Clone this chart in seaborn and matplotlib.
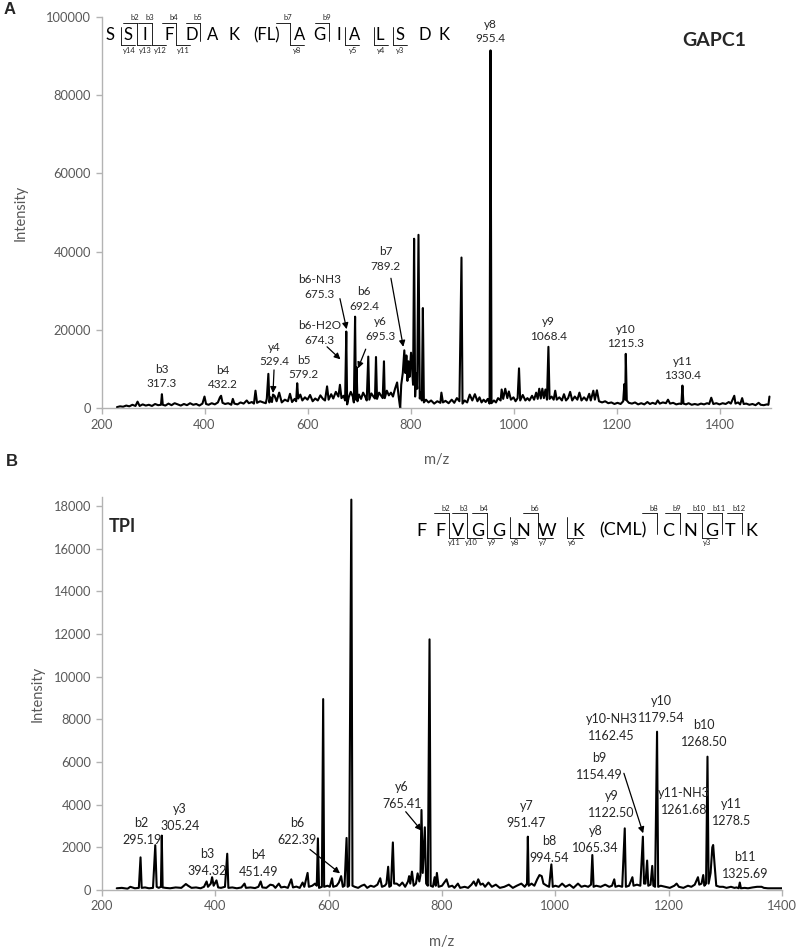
import matplotlib
matplotlib.use("Agg")
import matplotlib.pyplot as plt
from matplotlib.lines import Line2D
import pandas as pd
import seaborn as sns

# ---------------- Panel A: GAPC1 spectrum (m/z, intensity) ----------------
mz_a = [230, 236, 242, 248, 254, 260, 266, 270, 274, 280, 286, 292, 298, 304, 310,
        315.5, 317.3, 319, 324, 330, 336, 342, 348, 354, 360, 366, 372, 378, 384, 390,
        396, 400, 403, 408, 414, 420, 426, 430, 432.2, 435, 440, 446, 452, 455, 458,
        464, 470, 476, 482, 486, 492, 496, 499, 502, 508, 514, 519, 521, 524, 526,
        528, 531, 533, 536, 540, 545, 550, 556, 562, 566, 570, 575, 578, 580, 582,
        586, 590, 595, 600, 605, 610, 615, 620, 625, 630, 634, 638, 641, 646, 650,
        655, 660, 663, 666, 670, 673, 675.3, 677, 680, 684, 688, 690, 692.4, 694, 695.3,
        697, 700, 704, 708, 712, 715, 718, 720, 724, 728, 731, 733, 735, 739, 743,
        746, 748.5, 750, 754, 758, 762, 766, 770, 774, 777, 780, 782, 785, 788, 790,
        792, 794, 796, 798, 801, 803, 805, 807, 809, 811, 813, 815.5, 818, 820, 822,
        824, 826, 830, 835, 840, 846, 852, 858, 860, 863, 868, 874, 880, 885, 890,
        895, 899, 901, 905, 910, 915, 920, 925, 930, 934, 938, 942, 946, 950, 953.5,
        955.4, 957.3, 962, 966, 970, 975, 977, 980, 984, 988, 991, 995, 1000, 1004, 1008,
        1010.7, 1013, 1018, 1023, 1027, 1031, 1036, 1040, 1044, 1047, 1050, 1053, 1056, 1059, 1062,
        1065, 1067.8, 1070, 1074, 1078, 1081, 1084, 1089, 1094, 1098, 1102, 1106, 1110, 1114, 1119,
        1124, 1128, 1132, 1137, 1142, 1147, 1150, 1155, 1158, 1162, 1166, 1172, 1178, 1184, 1190,
        1196, 1202, 1208, 1213, 1215.3, 1217, 1218, 1220, 1224, 1230, 1236, 1242, 1248, 1254, 1260,
        1265, 1270, 1276, 1280, 1284, 1290, 1296, 1300, 1304, 1310, 1316, 1322, 1326, 1328, 1330,
        1335, 1340, 1346, 1352, 1358, 1364, 1370, 1376, 1380, 1384, 1388, 1394, 1400, 1406, 1412,
        1418, 1422, 1428.7, 1431, 1436, 1440, 1444, 1447, 1452, 1458, 1464, 1470, 1476, 1480, 1486,
        1492, 1495, 1497]
int_a = [300, 500, 400, 700, 500, 900, 600, 1700, 600, 1000, 700, 900, 600, 1100, 800,
         900, 3600, 900, 700, 1200, 800, 1300, 1000, 700, 1100, 800, 1300, 900, 1100, 700,
         1200, 3000, 1100, 900, 1300, 1000, 1500, 2800, 3200, 1400, 1100, 1300, 900, 2400, 1200,
         1000, 1500, 1200, 2000, 1300, 1600, 1200, 4500, 1400, 1800, 1500, 1300, 2500, 8800, 1500,
         2800, 1600, 3500, 3200, 1800, 4000, 1500, 2200, 1800, 3700, 1600, 2400, 1800, 6400, 2500,
         3500, 2000, 2800, 2200, 3400, 1800, 2500, 2000, 3300, 2400, 2000, 5600, 2200, 3600, 2500,
         4200, 3000, 6000, 2600, 3200, 2000, 19600, 1000, 2800, 4200, 3000, 1500, 23400, 2200, 10500,
         1800, 3500, 2400, 4000, 3000, 2000, 13200, 2200, 3800, 3000, 2500, 13100, 2400, 4000, 3200,
         2600, 12000, 2600, 4500, 3300, 4000, 3000, 5000, 6600, 3000, 0, 6000, 9000, 14800, 9000,
         13500, 7000, 12000, 8000, 14200, 10000, 6000, 43300, 3000, 9000, 5000, 44300, 2500, 4000, 2000,
         25600, 1500, 2200, 1500, 2000, 1200, 1800, 1400, 4000, 1500, 1900, 1300, 2200, 1400, 2600,
         1800, 38500, 1200, 2000, 1500, 3500, 2000, 3600, 1800, 2800, 1500, 2200, 1600, 2400, 1200,
         91400, 1300, 2000, 1500, 2600, 2000, 4800, 2400, 5000, 2600, 4300, 2200, 2800, 1800, 2600,
         10200, 2000, 3400, 2000, 2600, 2000, 3200, 2200, 4000, 2400, 5000, 2500, 5000, 2600, 4800,
         2200, 15700, 2400, 3000, 2200, 4500, 2200, 2800, 2000, 3600, 2000, 2600, 4200, 2000, 3000,
         2200, 4000, 2000, 2800, 2000, 3700, 2000, 4500, 2200, 4600, 1800, 1500, 1800, 1300, 1500,
         1100, 1400, 1100, 1800, 6200, 2200, 13900, 2000, 1400, 1200, 1500, 1000, 1300, 1000, 1600,
         1100, 1400, 1100, 2000, 1200, 1500, 1300, 2200, 1200, 1400, 1000, 1200, 1100, 5800, 1200,
         1000, 1300, 900, 1100, 900, 1200, 1000, 1300, 1100, 2700, 1100, 1300, 1000, 1300, 1100,
         1600, 1200, 3200, 1200, 1500, 1000, 2600, 1100, 1200, 900, 1100, 800, 1400, 900, 800,
         1000, 900, 3000]

# peak labels panel A
lab_a = ["b3\n317.3", "b4\n432.2", "y4\n529.4", "b5\n579.2", "b6-H2O\n674.3",
         "b6-NH3\n675.3", "b6\n692.4", "y6\n695.3", "b7\n789.2", "y8\n955.4",
         "y9\n1068.4", "y10\n1215.3", "y11\n1330.4"]
lab_a_x = [317, 436, 536, 592, 624, 624, 710, 742, 752, 955, 1068, 1218, 1328]
lab_a_y = [8100, 7900, 13700, 10400, 19200, 30900, 27900, 20300, 38100, 96200,
           20300, 18300, 10200]
arrows_a = [(535, 9800, 533, 3900), (638, 15700, 664, 12500), (663, 28000, 676, 20200),
            (713, 15100, 698, 10200), (762, 33200, 786, 15700)]

# ---------------- Panel B: TPI spectrum ----------------
mz_b = [226, 235, 245, 250, 258, 265, 268, 270, 276, 283, 290, 294, 296.5, 300, 304,
        305.5, 307, 312, 320, 330, 340, 348, 352, 358, 366, 374, 380, 384.6, 387, 392,
        394.3, 397, 402, 405, 410, 417, 421, 423, 430, 438, 446, 451.5, 454, 462, 470,
        476, 480, 483, 490, 497, 502, 506, 512, 516, 522, 528, 534, 537, 543, 549,
        554, 557, 562.8, 565, 571, 576, 579, 581, 583, 588, 590.3, 592, 598, 602, 606,
        608, 614, 618, 622, 625, 628, 631.6, 633.5, 636, 640, 642, 646, 652, 658, 663,
        668, 674, 680, 686, 691, 694, 699, 702, 705, 707, 710, 713.3, 715.5, 720, 725,
        730, 735, 740, 742, 744, 747, 750, 754, 757, 760, 762, 763.8, 766, 769.7, 772,
        775, 778, 780, 784, 787, 789, 791, 794, 800, 808, 812, 818, 822, 828, 832,
        840, 846, 852, 856, 860, 864, 868, 872, 876, 882, 888, 895, 902, 910, 918,
        925, 932, 940, 946, 950, 951.5, 953, 958, 963, 968, 972, 976, 979, 985, 989,
        993, 995.5, 1000, 1006, 1012, 1018, 1025, 1032, 1040, 1046, 1052, 1058, 1063, 1065.3, 1067.5,
        1072, 1080, 1088, 1095, 1100, 1104, 1106, 1112, 1118, 1122.5, 1124.5, 1130, 1136, 1138, 1144,
        1150, 1154.5, 1156.5, 1159, 1162, 1164, 1168, 1171, 1173, 1176, 1179.5, 1181.5, 1186, 1194, 1202,
        1210, 1214, 1218, 1226, 1234, 1240, 1246, 1251.7, 1254, 1258, 1261, 1263, 1266, 1268.5, 1270.5,
        1274, 1277, 1278.5, 1281, 1284, 1290, 1296, 1302, 1310, 1316, 1320, 1323.5, 1325.5, 1327.5, 1334,
        1340, 1348, 1356, 1364, 1368, 1375, 1385, 1395, 1400]
int_b = [80, 100, 60, 150, 80, 100, 1530, 100, 120, 80, 100, 2100, 150, 100, 150,
         2550, 120, 100, 80, 120, 100, 280, 200, 100, 120, 80, 150, 400, 150, 300,
         600, 200, 450, 120, 100, 150, 1700, 100, 120, 80, 120, 300, 100, 120, 90,
         150, 400, 120, 100, 250, 220, 100, 300, 120, 150, 100, 500, 120, 160, 100,
         350, 150, 800, 150, 200, 300, 200, 2420, 100, 150, 8950, 150, 200, 150, 550,
         150, 200, 350, 650, 150, 200, 2440, 150, 200, 18300, 200, 150, 100, 200, 250,
         100, 200, 150, 250, 550, 150, 200, 300, 1090, 150, 200, 2230, 300, 300, 200,
         350, 150, 400, 650, 300, 860, 200, 300, 780, 400, 700, 3750, 800, 2940, 300,
         200, 11750, 200, 150, 600, 200, 800, 150, 200, 500, 150, 200, 100, 300, 100,
         150, 100, 250, 400, 200, 500, 250, 300, 150, 350, 150, 250, 100, 150, 250,
         100, 200, 300, 150, 300, 2500, 200, 300, 200, 500, 700, 650, 300, 200, 150,
         1200, 150, 200, 150, 300, 150, 250, 100, 300, 150, 200, 150, 250, 1640, 150,
         200, 150, 250, 150, 200, 500, 150, 200, 150, 2890, 150, 200, 600, 200, 250,
         200, 2500, 300, 300, 1380, 200, 250, 1130, 200, 150, 7420, 150, 200, 150, 100,
         200, 300, 150, 100, 200, 150, 250, 600, 250, 300, 700, 200, 300, 6250, 300,
         800, 2000, 2110, 1200, 200, 150, 150, 100, 150, 100, 120, 80, 350, 80, 100,
         80, 120, 150, 150, 100, 80, 80, 80, 80]

lab_b = ["b2\n295.19", "y3\n305.24", "b3\n394.32", "b4\n451.49", "b6\n622.39",
         "y6\n765.41", "y7\n951.47", "b8\n994.54", "y8\n1065.34", "y9\n1122.50",
         "b9\n1154.49", "y10-NH3\n1162.45", "y10\n1179.54", "b10\n1268.50",
         "y11-NH3\n1261.68", "y11\n1278.5", "b11\n1325.69"]
lab_b_x = [270, 338, 386, 476, 545, 729, 949, 989, 1071, 1099, 1078, 1099, 1187, 1262,
           1227, 1311, 1335]
lab_b_y = [2760, 3380, 1290, 1230, 2730, 4430, 3530, 1900, 2380, 4010, 5800, 7600,
           8460, 7320, 4130, 3630, 1150]
arrows_b = [(567, 1900, 620, 780), (736, 3670, 764, 2780), (1121, 5470, 1155, 2660)]

# ---------------- peptide sequences ----------------
seq_a = ["S", "S", "I", "F", "D", "A", "K", "(FL)", "A", "G", "I", "A", "L", "S", "D", "K"]
seq_a_x = [110, 128.3, 145.3, 168.7, 191.7, 212.5, 234.2, 266.7, 299.2, 319.2, 338.8,
           354.2, 380, 400, 425, 444.2]
sites_a = [(121, None, "y14"), (137, "b2", "y13"), (152, "b3", "y12"), (175.5, "b4", "y11"),
           (199.5, "b5", None), (289.5, "b7", "y8"), (329, "b9", None), (345, None, "y5"),
           (373.5, None, "y4"), (392.5, None, "y3")]

seq_b = ["F", "F", "V", "G", "G", "N", "W", "K", "(CML)", "C", "N", "G", "T", "K"]
seq_b_x = [421.7, 440, 458.3, 477.3, 498.3, 523.3, 546.7, 578.3, 623.3, 668.3, 690,
           711.7, 730, 751.7]
sites_b = [(449.3, "b2", "y11"), (466.7, "b3", "y10"), (487.3, "b4", "y9"), (510, None, "y8"),
           (538.3, "b6", "y7"), (566.7, None, "y6"), (656.7, "b8", None), (680, "b9", None),
           (701.7, "b10", "y3"), (721.7, "b11", None), (741.7, "b12", None)]

W, H = 797, 951
GREY = "#b3b3b3"
TXT = "#595959"

sns.set_style("white")
plt.rcParams["font.family"] = ["Lato", "DejaVu Sans"]


def fx(px):
    return px / W


def fy(py):
    return 1 - py / H


def style_axis(ax, xmax, ymax, yticks, fs):
    for s in ["top", "right"]:
        ax.spines[s].set_visible(False)
    for s in ["left", "bottom"]:
        ax.spines[s].set_color(GREY)
        ax.spines[s].set_linewidth(1.0)
    ax.set_xlim(200, xmax)
    ax.set_ylim(0, ymax)
    ax.set_xticks(range(200, 1401, 200))
    ax.set_xticklabels([str(v) for v in range(200, 1401, 200)])
    ax.set_yticks(yticks)
    ax.set_yticklabels([str(v) for v in yticks])
    ax.tick_params(axis="both", direction="out", length=4, width=1, color=GREY,
                   labelcolor=TXT, labelsize=fs, left=True, bottom=True)
    ax.set_xlabel("m/z", color=TXT, fontsize=10.5)
    ax.set_ylabel("Intensity", color=TXT, fontsize=10.5)


def draw_sequence(fig, residues, xs, base, size, sites, ytop, ybot, w, boff, yoff):
    for r, x in zip(residues, xs):
        fig.text(fx(x), fy(base), r, ha="center", va="baseline", fontsize=size, color="black")
    for x, b, y in sites:
        y0 = ytop if b else ytop + 4
        y1 = ybot if y else ybot - 4
        fig.add_artist(Line2D([fx(x), fx(x)], [fy(y0), fy(y1)], color="black", lw=0.6))
        if b:
            fig.add_artist(Line2D([fx(x - w), fx(x)], [fy(ytop), fy(ytop)], color="black", lw=0.6))
            fig.text(fx(x + boff), fy(ytop - 1.2), b, ha="center", va="bottom", fontsize=5.5)
        if y:
            fig.add_artist(Line2D([fx(x), fx(x + w)], [fy(ybot), fy(ybot)], color="black", lw=0.6))
            fig.text(fx(x + yoff), fy(ybot + 1.5), y, ha="center", va="top", fontsize=5.5)


fig = plt.figure(figsize=(W / 100, H / 100), dpi=100)

# ---- panel A ----
ax1 = fig.add_axes([fx(101.5), fy(408.3), (771 - 101.5) / W, (408.3 - 16.7) / H])
df_a = pd.DataFrame({"mz": mz_a, "intensity": int_a})
sns.lineplot(data=df_a, x="mz", y="intensity", ax=ax1, color="black", linewidth=1.5,
             estimator=None, sort=False)
style_axis(ax1, 1500, 100000, list(range(0, 100001, 20000)), 9.3)
ax1.yaxis.set_label_coords(-0.11, 0.5)
ax1.xaxis.set_label_coords(0.5, -0.113)
for t, x, y in zip(lab_a, lab_a_x, lab_a_y):
    ax1.text(x, y, t, ha="center", va="center", fontsize=8.5, linespacing=1.4)
for x0, y0, x1, y1 in arrows_a:
    ax1.annotate("", xy=(x1, y1), xytext=(x0, y0),
                 arrowprops=dict(arrowstyle="-|>", color="black", lw=0.9,
                                 mutation_scale=9, shrinkA=0, shrinkB=0))
ax1.text(1389, 94000, "GAPC1", ha="center", va="center", fontsize=14, fontweight="bold")

# ---- panel B ----
ax2 = fig.add_axes([fx(102), fy(890), (782 - 102) / W, (890 - 497.5) / H])
df_b = pd.DataFrame({"mz": mz_b, "intensity": int_b})
sns.lineplot(data=df_b, x="mz", y="intensity", ax=ax2, color="black", linewidth=1.5,
             estimator=None, sort=False)
style_axis(ax2, 1400, 18400, list(range(0, 18001, 2000)), 9.3)
ax2.yaxis.set_label_coords(-0.084, 0.5)
ax2.xaxis.set_label_coords(0.5, -0.115)
for t, x, y in zip(lab_b, lab_b_x, lab_b_y):
    ax2.text(x, y, t, ha="center", va="center", fontsize=9, linespacing=1.5)
for x0, y0, x1, y1 in arrows_b:
    ax2.annotate("", xy=(x1, y1), xytext=(x0, y0),
                 arrowprops=dict(arrowstyle="-|>", color="black", lw=0.9,
                                 mutation_scale=9, shrinkA=0, shrinkB=0))

# ---- sequences and panel tags ----
draw_sequence(fig, seq_a, seq_a_x, 40, 12, sites_a, 22.7, 45, 14, -2, 8)
draw_sequence(fig, seq_b, seq_b_x, 535.7, 13, sites_b, 513.3, 537.5, 15, -3, 5)

fig.text(fx(109), fy(527), "TPI", ha="left", va="center", fontsize=13, fontweight="bold")
fig.text(fx(4), fy(9), "A", ha="left", va="center", fontsize=12, fontweight="bold",
         family="Liberation Sans")
fig.text(fx(6), fy(462), "B", ha="left", va="center", fontsize=12, fontweight="bold",
         family="Liberation Sans")

fig.savefig("out.png", dpi=100)
